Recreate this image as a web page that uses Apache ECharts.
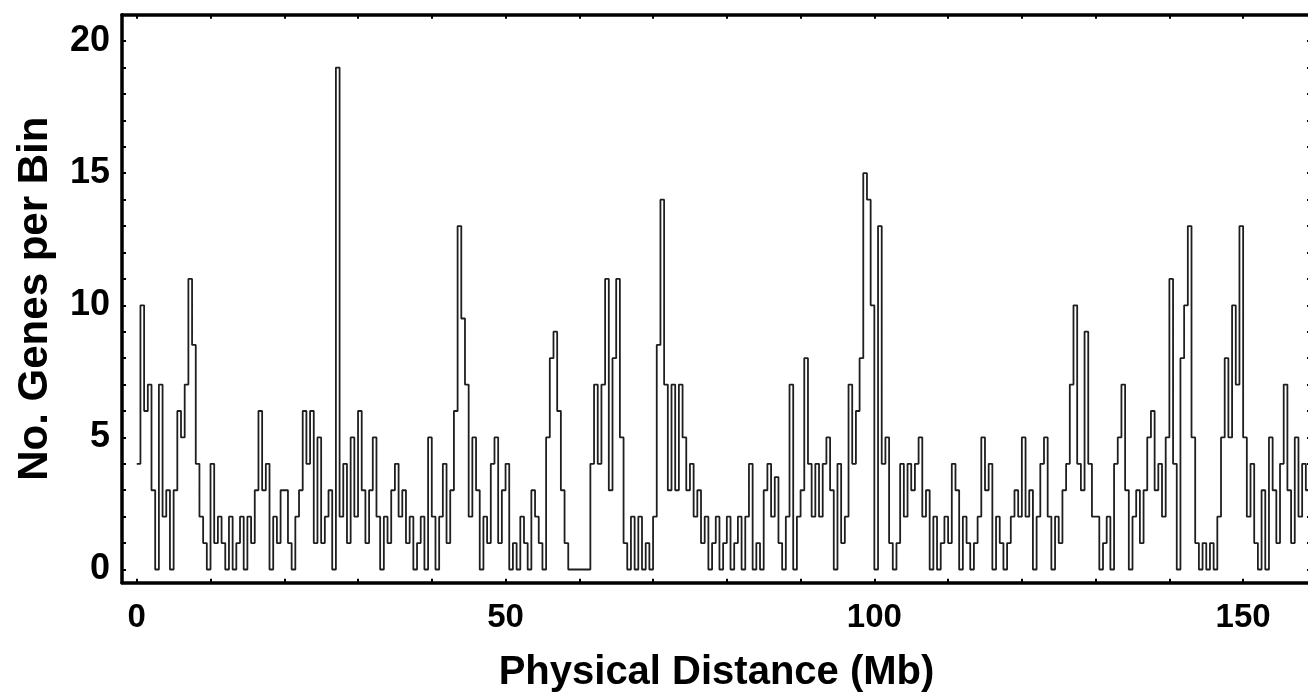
<!DOCTYPE html>
<html>
<head>
<meta charset="utf-8">
<script src="https://cdn.jsdelivr.net/npm/echarts@6/dist/echarts.min.js"></script>
<style>
  html, body { margin: 0; padding: 0; background: #fff; }
  #chart { width: 1308px; height: 696px; }
</style>
</head>
<body>
<div id="chart"></div>
<script>
// bins of 0.5 Mb, one row per 10 Mb
const BIN_MB = 0.5;
const genes000 = [4,10,6,7,3,0,7,2,3,0,3,6,5,7,11,8.5,4,2,1,0];
const genes010 = [4,1,2,1,0,2,0,1,2,0,2,1,3,6,3,4,0,2,1,3];
const genes020 = [3,1,0,2,3,6,4,6,1,5,1,2,3,0,19,2,4,1,5,2];
const genes030 = [6,3,1,3,5,2,0,2,1,3,4,2,3,1,2,0,1,2,0,5];
const genes040 = [2,0,2,4,1,3,6,13,9.5,7,2,5,3,0,2,1,4,5,1,3];
const genes050 = [4,0,1,0,2,1,0,3,2,1,0,5,8,9,6,3,1,0,0,0];
const genes060 = [0,0,0,4,7,4,7,11,3,8,11,5,1,0,2,0,2,0,1,0];
const genes070 = [2,8.5,14,7,3,7,3,7,5,3,4,2,3,1,2,0,1,2,0,1];
const genes080 = [2,0,1,2,0,2,4,0,1,0,3,4,2,3.5,1,0,2,7,0,2];
const genes090 = [3,8,4,2,4,2,4,5,3,0,4,1,2,7,4,6,8,15,14,10];
const genes100 = [0,13,4,5,1,0,1,4,2,4,3,4,5,2,3,0,2,0,1,2];
const genes110 = [1,4,3,0,2,1,0,1,2,5,3,4,0,2,1,0,1,2,3,2];
const genes120 = [5,2,3,0,2,4,5,2,0,2,1,3,4,7,10,4,3,9,4,2];
const genes130 = [2,0,1,2,0,4,5,7,3,0,2,3,1,3,5,6,3,4,2,5];
const genes140 = [11,4,0,8,10,13,5,1,0,1,0,1,0,2,5,8,5,10,7,13];
const genes150 = [5,2,4,1,0,3,0,5,3,1,4,7,3,1,5,2,4,3,5,2];

const xTicks = [0, 10, 20, 30, 40, 50, 60, 70, 80, 90, 100, 110, 120, 130, 140, 150];
const xLabels = [0, 50, 100, 150];
const yTicks = [0, 1, 2, 3, 4, 5, 6, 7, 8, 9, 10, 11, 12, 13, 14, 15, 16, 17, 18, 19, 20];
const yLabels = [0, 5, 10, 15, 20];

const genes = [].concat(genes000, genes010, genes020, genes030, genes040, genes050,
  genes060, genes070, genes080, genes090, genes100, genes110, genes120, genes130,
  genes140, genes150);
const points = genes.map((v, i) => [i * BIN_MB, v]);

const FONT = "Liberation Sans, Arial, sans-serif";
const frame = { show: true, onZero: false, lineStyle: { color: "#000", width: 3.5 } };
const tick = (values, len) => ({
  show: true, inside: true, length: len, customValues: values,
  lineStyle: { color: "#000", width: 2 }
});

const chart = echarts.init(document.getElementById("chart"), null, { renderer: "canvas" });
chart.setOption({
  animation: false,
  backgroundColor: "#fff",
  grid: {
    left: 122, right: -3, top: 14.7, bottom: 113.3,
    containLabel: false, outerBoundsMode: "none"
  },
  xAxis: [
    {
      type: "value", min: -2, max: 159.2, position: "bottom",
      axisLine: frame,
      axisTick: tick(xTicks, 4),
      axisLabel: {
        customValues: xLabels, margin: 19, color: "#000",
        fontSize: 33, fontWeight: "bold", fontFamily: FONT
      },
      splitLine: { show: false },
      name: "Physical Distance (Mb)",
      nameLocation: "middle",
      nameGap: 70,
      nameTextStyle: { color: "#000", fontSize: 40, fontWeight: "bold", fontFamily: FONT }
    },
    {
      type: "value", min: -2, max: 159.2, position: "top",
      axisLine: frame,
      axisTick: tick(xTicks, 4),
      axisLabel: { show: false },
      splitLine: { show: false }
    }
  ],
  yAxis: [
    {
      type: "value", min: -0.5, max: 21, position: "left",
      axisLine: frame,
      axisTick: tick(yTicks, 4),
      axisLabel: {
        customValues: yLabels, margin: 12, color: "#000",
        fontSize: 36, fontWeight: "bold", fontFamily: FONT
      },
      splitLine: { show: false },
      name: "No. Genes per Bin",
      nameLocation: "middle",
      nameGap: 66,
      nameTextStyle: { color: "#000", fontSize: 42, fontWeight: "bold", fontFamily: FONT }
    },
    {
      type: "value", min: -0.5, max: 21, position: "right",
      axisLine: frame,
      axisTick: tick(yTicks, 4),
      axisLabel: { show: false },
      splitLine: { show: false }
    }
  ],
  series: [
    {
      type: "line",
      step: "end",
      data: points,
      showSymbol: false,
      symbol: "none",
      lineStyle: { color: "#1e1e1e", width: 1.8 },
      silent: true
    }
  ]
});
</script>
</body>
</html>
